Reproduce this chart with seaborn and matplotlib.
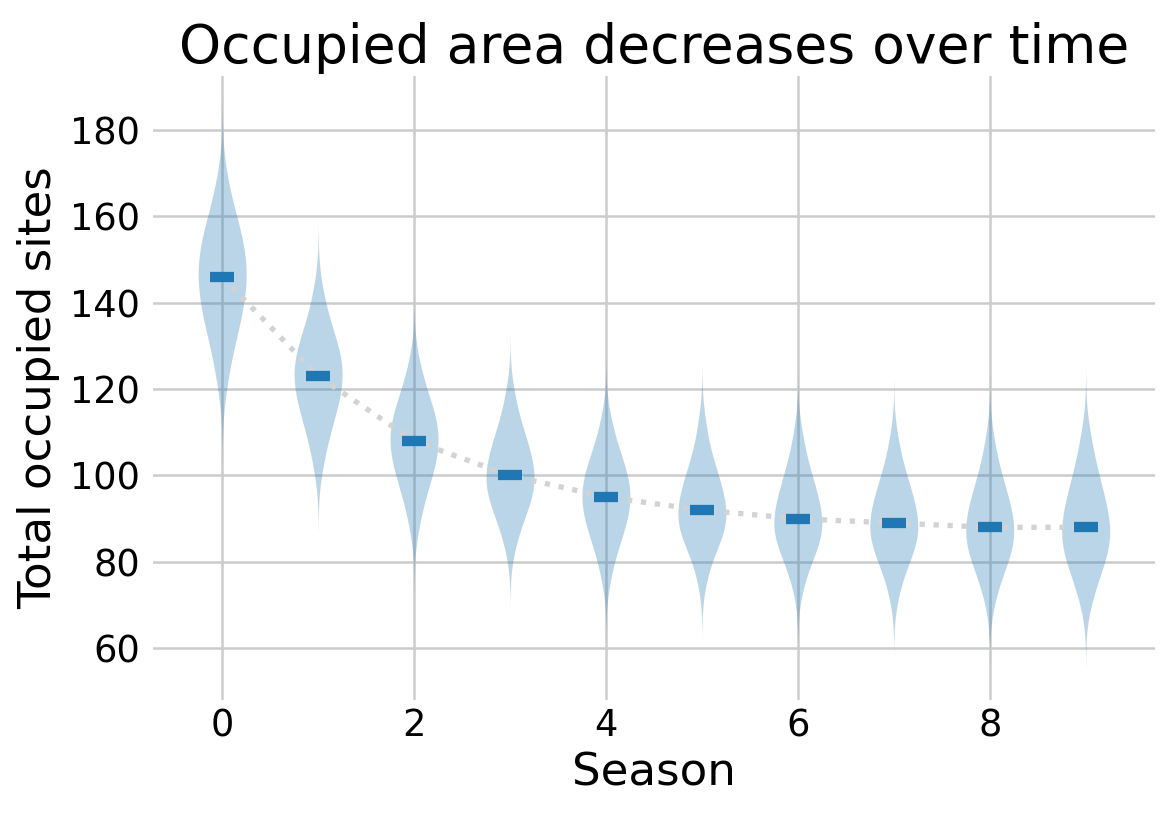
import numpy as np
import pandas as pd
import matplotlib
matplotlib.use("Agg")
import matplotlib.pyplot as plt
import seaborn as sns

# ---- data ----
seasons = [0, 1, 2, 3, 4, 5, 6, 7, 8, 9]
medians = [146, 123, 108, 100, 95, 92, 90, 89, 88, 88]

# estimated evenly spaced quantiles of each season's distribution
s0 = [122, 128, 132, 134, 137, 138, 140, 142, 144, 145, 147, 148, 150, 151, 153, 155, 157, 159, 162, 168]
s1 = [103, 108, 111, 113.5, 115, 117, 118, 120, 121, 122.5, 123.5, 125, 126, 127, 129, 130, 132, 134, 137, 142]
s2 = [88.6, 93.7, 96.6, 98.7, 100.5, 102.1, 103.5, 104.8, 106.1, 107.4, 108.6, 109.7, 110.9, 112.2, 113.5, 115, 116.6, 118.6, 121.2, 126]
s3 = [83.9, 88.2, 90.6, 92.3, 93.8, 95.1, 96.3, 97.4, 98.5, 99.5, 100.6, 101.8, 103, 104.3, 105.6, 107.1, 108.8, 110.8, 113.5, 118.4]
s4 = [77, 81.8, 84.4, 86.4, 88.1, 89.5, 90.8, 92.1, 93.3, 94.4, 95.6, 96.7, 97.9, 99.1, 100.4, 101.8, 103.4, 105.4, 108, 112.6]
s5 = [76.5, 81.2, 83.4, 85, 86.3, 87.5, 88.6, 89.6, 90.6, 91.5, 92.6, 93.8, 95.1, 96.4, 97.7, 99.3, 101, 103, 105.8, 111.5]
s6 = [74.5, 78.9, 81.1, 82.8, 84.2, 85.4, 86.5, 87.5, 88.5, 89.5, 90.6, 91.9, 93.2, 94.5, 95.9, 97.5, 99.3, 101.4, 104.3, 109.4]
s7 = [73, 77.6, 79.9, 81.6, 83, 84.3, 85.4, 86.5, 87.5, 88.5, 89.6, 90.8, 92.1, 93.4, 94.7, 96.3, 98, 100, 102.8, 107.8]
s8 = [71.7, 76, 78.5, 80.2, 81.7, 83, 84.2, 85.4, 86.4, 87.5, 88.6, 89.9, 91.2, 92.6, 94, 95.6, 97.4, 99.6, 102.5, 107.8]
s9 = [71.5, 75.3, 77.9, 79.8, 81.4, 82.7, 84, 85.2, 86.3, 87.4, 88.7, 90.1, 91.5, 93, 94.6, 96.3, 98.3, 100.7, 103.8, 109]
samples = [s0, s1, s2, s3, s4, s5, s6, s7, s8, s9]

x_ticks = [0, 2, 4, 6, 8]
y_ticks = [60, 80, 100, 120, 140, 160, 180]

title = "Occupied area decreases over time"
x_label = "Season"
y_label = "Total occupied sites"

# ---- build table ----
rows_season = []
rows_value = []
for s, vals in zip(seasons, samples):
    rows_season += [s] * len(vals)
    rows_value += list(vals)
df = pd.DataFrame({"Season": rows_season, "Sites": rows_value})

# ---- plot ----
sns.set_theme(style="whitegrid")
plt.rcParams["font.family"] = ["DejaVu Sans"]
plt.rcParams["text.color"] = "black"
plt.rcParams["axes.labelcolor"] = "black"
plt.rcParams["xtick.color"] = "black"
plt.rcParams["ytick.color"] = "black"

fig = plt.figure(figsize=(11.74, 8.16), dpi=100)
ax = fig.add_axes([0.130, 0.142, 0.854, 0.765])

blue = "#1f77b4"
sns.violinplot(data=df, x="Season", y="Sites", native_scale=True, orient="x",
               inner=None, density_norm="width", width=0.5, cut=3,
               color=blue, saturation=1, linewidth=0, alpha=0.3, ax=ax)

sns.lineplot(x=seasons, y=medians, color="#d3d3d3", linestyle=":",
             linewidth=3.8, ax=ax, zorder=3)

ax.hlines(medians, np.array(seasons) - 0.125, np.array(seasons) + 0.125,
          colors=blue, linewidth=7.4, zorder=4)

ax.set_xlim(-0.725, 9.725)
ax.set_ylim(48, 192.5)
ax.set_xticks(x_ticks)
ax.set_yticks(y_ticks)
ax.grid(True, color="#cccccc", linewidth=1.8)
ax.set_axisbelow(True)
for sp in ax.spines.values():
    sp.set_visible(False)

ax.tick_params(axis="x", labelsize=26.5, pad=5, length=0, labelcolor="black")
ax.tick_params(axis="y", labelsize=26.5, pad=9, length=0, labelcolor="black")
ax.set_xlabel(x_label, fontsize=32.5, labelpad=5, color="black")
ax.set_ylabel(y_label, fontsize=32.5, labelpad=7, color="black")
ax.set_title(title, fontsize=38.5, pad=9, color="black")

fig.savefig("out.png", dpi=100)
